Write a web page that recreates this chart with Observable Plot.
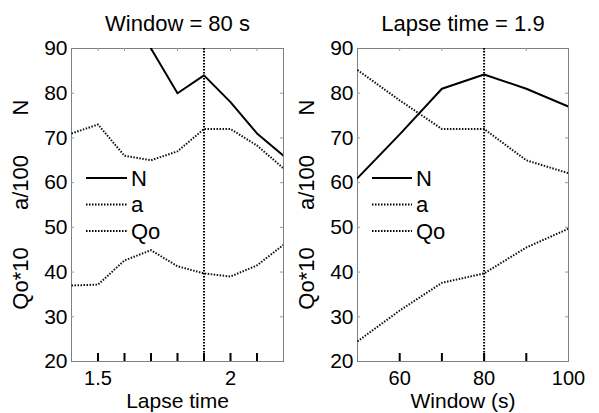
<!DOCTYPE html>
<html>
<head>
<meta charset="utf-8">
<script src="https://cdn.jsdelivr.net/npm/d3@7"></script>
<script src="https://cdn.jsdelivr.net/npm/@observablehq/plot@0.6"></script>
<style>
  body { margin: 0; background: #fff; }
  #wrap { position: relative; width: 599px; height: 413px; overflow: hidden; background: #fff; }
  #wrap > * { position: absolute; top: 0; }
</style>
</head>
<body>
<div id="wrap"></div>
<script>
// ---- data ----
const lapseTime = [1.4, 1.5, 1.6, 1.7, 1.8, 1.9, 2.0, 2.1, 2.2];
const leftN  = [null, null, null, 90, 80, 84, 78, 71, 66];
const leftA  = [71, 73, 66, 65, 67, 72, 72, 68.3, 63.2];
const leftQo = [37, 37.2, 42.6, 44.9, 41.3, 39.7, 39, 41.5, 46.1];

const windowS = [50, 60, 70, 80, 90, 100];
const rightN  = [61, 70.8, 81, 84.2, 81, 77];
const rightA  = [85.2, 78.4, 72, 72, 65, 62.1];
const rightQo = [24.5, 31.4, 37.6, 39.7, 45.5, 49.7];

const yTicks = [20, 30, 40, 50, 60, 70, 80, 90];
const leftXTicks = [1.5, 1.6, 1.7, 1.8, 1.9, 2.0, 2.1];
const leftXLabels = [1.5, 2];
const rightXTicks = [60, 70, 80, 90];
const rightXLabels = [60, 80, 100];
const yLabels = ["N", "a/100", "Qo*10"];
const seriesNames = ["N", "a", "Qo"];

const FONT = "'Liberation Sans', Arial, Helvetica, sans-serif";
const H = 413, MT = 48, MB = 52;
const innerH = H - MT - MB;
const DOTS = "1.5,1.5";

function panel({x, xDomain, xTicks, xLabels, vline, N, A, Q, title, xLabel, width, ml, mr}) {
  const innerW = width - ml - mr;
  const rows = (ys) => x.map((xv, i) => ({x: xv, y: ys[i] == null ? NaN : ys[i]}));
  const labelDy = [59, 134, 230];
  return Plot.plot({
    width, height: H,
    marginLeft: ml, marginRight: mr, marginTop: MT, marginBottom: MB,
    style: {fontFamily: FONT, fontSize: "21px", color: "#000", background: "#fff", overflow: "visible"},
    x: {domain: xDomain},
    y: {domain: [20, 90]},
    marks: [
      Plot.frame({stroke: "#808080", strokeWidth: 1}),
      // inner ticks
      Plot.ruleX(xTicks, {stroke: "#000", strokeWidth: 2, insetTop: innerH - 8}),
      Plot.ruleX(xTicks, {stroke: "#999", strokeWidth: 1, insetBottom: innerH - 3}),
      Plot.ruleY(yTicks.slice(1, -1), {stroke: "#999", strokeWidth: 1, insetRight: innerW - 3}),
      Plot.ruleY(yTicks.slice(1, -1), {stroke: "#999", strokeWidth: 1, insetLeft: innerW - 3}),
      Plot.axisX({ticks: xLabels, tickSize: 0, tickPadding: 9, label: null, fontSize: 20, tickFormat: d => String(d)}),
      Plot.axisY({ticks: yTicks, tickSize: 0, tickPadding: 4, label: null, fontSize: 21}),
      // vertical reference line
      Plot.ruleX([vline], {stroke: "#000", strokeWidth: 2, strokeDasharray: DOTS, strokeLinecap: "butt"}),
      // series
      Plot.lineY(rows(Q), {x: "x", y: "y", stroke: "#111", strokeWidth: 2, strokeDasharray: DOTS, strokeLinecap: "butt", clip: true}),
      Plot.lineY(rows(A), {x: "x", y: "y", stroke: "#111", strokeWidth: 2, strokeDasharray: DOTS, strokeLinecap: "butt", clip: true}),
      Plot.lineY(rows(N), {x: "x", y: "y", stroke: "#000", strokeWidth: 2, clip: true}),
      // title and axis label
      Plot.text([title], {frameAnchor: "top", dy: -25, fontSize: 22, lineAnchor: "middle", fill: "#000"}),
      Plot.text([xLabel], {frameAnchor: "bottom", dy: 40, fontSize: 21, lineAnchor: "middle", fill: "#000"}),
      // rotated y labels
      ...yLabels.map((t, i) => Plot.text([t], {frameAnchor: "top-left", dx: -51, dy: labelDy[i], rotate: -90, fontSize: 22, textAnchor: "middle", lineAnchor: "middle", fill: "#000"}))
    ]
  });
}

const wrap = document.getElementById("wrap");

const left = panel({
  x: lapseTime, xDomain: [1.4, 2.2], xTicks: leftXTicks, xLabels: leftXLabels, vline: 1.9,
  N: leftN, A: leftA, Q: leftQo, title: "Window = 80 s", xLabel: "Lapse time",
  width: 300, ml: 71, mr: 17
});
left.style.left = "0px";
wrap.appendChild(left);

const right = panel({
  x: windowS, xDomain: [50, 100], xTicks: rightXTicks, xLabels: rightXLabels, vline: 80,
  N: rightN, A: rightA, Q: rightQo, title: "Lapse time = 1.9", xLabel: "Window (s)",
  width: 299, ml: 57, mr: 31
});
right.style.left = "300px";
wrap.appendChild(right);

// legends (overlay)
const leg = d3.select(wrap).append("svg")
  .attr("width", 599).attr("height", 413)
  .style("left", "0px").style("pointer-events", "none");
const legendStyles = [{dash: null}, {dash: DOTS}, {dash: DOTS}];
const legendRowsY = [178, 204.5, 231];
[[86, 127, 131], [372, 412, 416]].forEach(([x1, x2, tx]) => {
  seriesNames.forEach((name, i) => {
    const y = legendRowsY[i];
    leg.append("line").attr("x1", x1).attr("x2", x2).attr("y1", y).attr("y2", y)
      .attr("stroke", "#000").attr("stroke-width", 2)
      .attr("stroke-dasharray", legendStyles[i].dash);
    leg.append("text").attr("x", tx).attr("y", y).attr("dy", "0.36em")
      .attr("font-family", FONT).attr("font-size", 22).attr("fill", "#000")
      .text(name);
  });
});
</script>
</body>
</html>
